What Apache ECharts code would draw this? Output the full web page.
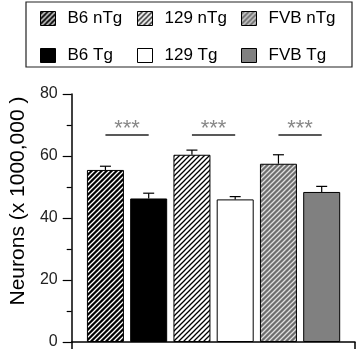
<!DOCTYPE html>
<html lang="en">
<head>
    <meta charset="UTF-8">
    <title>Neurons</title>
    <script src="https://cdn.jsdelivr.net/npm/echarts@6/dist/echarts.min.js"></script>
    <style>
        html, body { margin: 0; padding: 0; background: #fff; }
        #chart { width: 358px; height: 353px; }
    </style>
</head>
<body>
    <div id="chart"></div>
    <script>
        // data
        var groups = ['B6 nTg', 'B6 Tg', '129 nTg', '129 Tg', 'FVB nTg', 'FVB Tg'];
        var means = [55.5, 46.3, 60.4, 46.0, 57.5, 48.4];
        var errs = [1.2, 1.7, 1.5, 0.9, 2.9, 1.8];
        var sigPairs = [[0, 1], [2, 3], [4, 5]];
        var sigLevel = 67;
        var sigText = '***';
        var yTicks = [0, 20, 40, 60, 80];

        var font = 'Liberation Sans, Arial, sans-serif';

        // diagonal hatch fill
        function stripes(bg, fg, lw) {
            var c = document.createElement('canvas');
            c.width = 5; c.height = 5;
            var ctx = c.getContext('2d');
            ctx.fillStyle = bg;
            ctx.fillRect(0, 0, 5, 5);
            ctx.strokeStyle = fg;
            ctx.lineWidth = lw;
            ctx.beginPath();
            ctx.moveTo(-1, 6); ctx.lineTo(6, -1);
            ctx.moveTo(-1, 1); ctx.lineTo(1, -1);
            ctx.moveTo(4, 6); ctx.lineTo(6, 4);
            ctx.stroke();
            return { image: c, repeat: 'repeat' };
        }

        var fills = [
            stripes('#000', '#fff', 1.3), '#000',
            stripes('#fff', '#000', 1.3), '#fff',
            stripes('#6e6e6e', '#e0e0e0', 1.3), '#808080'
        ];

        // x range in bar-index units (bars 44px apart)
        var xMin = -0.78, xMax = 5.77;

        var series = groups.map(function (g, i) {
            return {
                name: g,
                type: 'bar',
                barWidth: 37,
                barGap: '-100%',
                data: [[i, means[i]]],
                itemStyle: { color: fills[i], borderColor: '#000', borderWidth: 1 },
                silent: true
            };
        });

        // significance lines
        sigPairs.forEach(function (p) {
            series[p[0]].markLine = {
                silent: true,
                symbol: 'none',
                lineStyle: { color: '#222', width: 1.5, type: 'solid' },
                label: {
                    show: true, position: 'middle', formatter: sigText,
                    color: '#888', fontSize: 22, fontFamily: font, distance: -6
                },
                data: [[{ coord: [p[0], sigLevel] }, { coord: [p[1], sigLevel] }]]
            };
        });

        // error bars
        series.push({
            type: 'custom',
            silent: true,
            z: 5,
            data: means.map(function (m, i) { return [i, m, errs[i]]; }),
            renderItem: function (params, api) {
                var x = api.value(0), m = api.value(1), e = api.value(2);
                var base = api.coord([x, m]);
                var top = api.coord([x, m + e]);
                return {
                    type: 'group',
                    children: [
                        { type: 'line', shape: { x1: base[0], y1: base[1], x2: top[0], y2: top[1] }, style: { stroke: '#000', lineWidth: 1.2 } },
                        { type: 'line', shape: { x1: top[0] - 5.5, y1: top[1], x2: top[0] + 5.5, y2: top[1] }, style: { stroke: '#000', lineWidth: 1.2 } }
                    ]
                };
            }
        });

        var legendLefts = [40, 137, 241];
        var legends = legendLefts.map(function (l, k) {
            return {
                orient: 'vertical',
                left: l,
                top: 10,
                padding: 0,
                itemWidth: 15,
                itemHeight: 14,
                itemGap: 20,
                icon: 'rect',
                selectedMode: false,
                data: [groups[2 * k], groups[2 * k + 1]],
                itemStyle: { borderColor: '#000', borderWidth: 1 },
                textStyle: { fontSize: 17, color: '#000', fontFamily: font, padding: [0, 0, 0, 7] }
            };
        });

        var chart = echarts.init(document.getElementById('chart'));
        chart.setOption({
            animation: false,
            textStyle: { fontFamily: font },
            graphic: [{
                type: 'rect',
                shape: { x: 26, y: 2, width: 326, height: 65 },
                style: { fill: 'none', stroke: '#222', lineWidth: 1.2 }
            }],
            legend: legends,
            grid: { left: 66, right: 3, top: 94, bottom: 11 },
            xAxis: {
                type: 'value',
                min: xMin,
                max: xMax,
                splitLine: { show: false },
                axisLabel: { show: false },
                axisLine: { show: true, onZero: false, lineStyle: { color: '#000', width: 1.5 } },
                axisTick: { show: true, customValues: [xMin, xMax], length: 7, lineStyle: { color: '#000', width: 1.5 } }
            },
            yAxis: {
                type: 'value',
                min: yTicks[0],
                max: yTicks[yTicks.length - 1],
                interval: yTicks[1] - yTicks[0],
                name: 'Neurons (x 1000,000 )',
                nameLocation: 'middle',
                nameRotate: 90,
                nameGap: 36,
                nameTextStyle: { fontSize: 21, color: '#000', fontFamily: font, padding: [0, 0, 0, 34] },
                splitLine: { show: false },
                axisLine: { show: true, onZero: false, lineStyle: { color: '#000', width: 1.5 } },
                axisTick: { show: true, length: 9, lineStyle: { color: '#000', width: 1.2 } },
                minorTick: { show: true, splitNumber: 2, length: 5, lineStyle: { color: '#000', width: 1.2 } },
                axisLabel: { fontSize: 16, color: '#222', margin: 14, fontFamily: font }
            },
            series: series
        });
    </script>
</body>
</html>
